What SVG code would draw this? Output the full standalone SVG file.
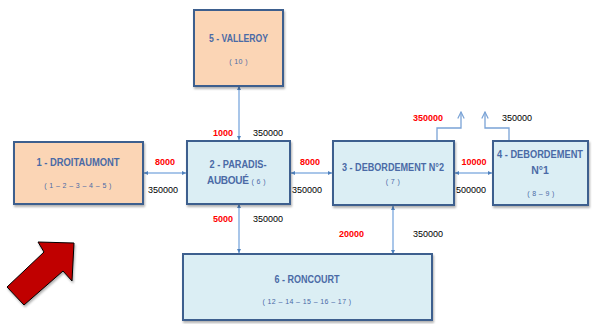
<svg xmlns="http://www.w3.org/2000/svg" width="593" height="324" viewBox="0 0 593 324">
<style>
.box{stroke:#3d5f8e;stroke-width:2}
.org{fill:#fbd5b5}
.blu{fill:#dbeef4}
.t{font-family:"Liberation Sans",Arial,sans-serif;font-size:10.5px;font-weight:bold;fill:#4a6aa6;text-anchor:middle}
.s{font-family:"Liberation Sans",Arial,sans-serif;font-size:7px;fill:#4a6aa6;text-anchor:middle;letter-spacing:0.4px}
.r{font-family:"Liberation Sans",Arial,sans-serif;font-size:9px;font-weight:bold;fill:#ff0000}
.k{font-family:"Liberation Sans",Arial,sans-serif;font-size:9px;fill:#000}
.c{stroke:#8db3e2;stroke-width:1.5;fill:none}
.o{stroke:#7aa3d6;stroke-width:1.3;fill:none}
</style>
<defs>
<marker id="ah" viewBox="0 0 10 10" refX="10" refY="5" markerWidth="4" markerHeight="4" orient="auto-start-reverse" markerUnits="userSpaceOnUse">
<path d="M0,0 L10,5 L0,10 z" fill="#4f81bd"/>
</marker>
<marker id="oh" viewBox="0 0 10 10" refX="9" refY="5" markerWidth="8" markerHeight="8" orient="auto" markerUnits="userSpaceOnUse">
<path d="M1,1 L9,5 L1,9" fill="none" stroke="#7aa3d6" stroke-width="1.5"/>
</marker>
<filter id="sh" x="-10%" y="-10%" width="120%" height="130%">
<feDropShadow dx="1" dy="2" stdDeviation="1" flood-color="#000" flood-opacity="0.3"/>
</filter>
</defs>
<rect width="593" height="324" fill="#fff"/>

<g id="connectors">
<line class="c" x1="239" y1="86" x2="239" y2="140" marker-start="url(#ah)" marker-end="url(#ah)"/>
<line class="c" x1="144" y1="173" x2="186" y2="173" marker-start="url(#ah)" marker-end="url(#ah)"/>
<line class="c" x1="291" y1="173" x2="332" y2="173" marker-start="url(#ah)" marker-end="url(#ah)"/>
<line class="c" x1="455" y1="173" x2="492" y2="173" marker-start="url(#ah)" marker-end="url(#ah)"/>
<line class="c" x1="239" y1="204" x2="239" y2="253" marker-start="url(#ah)" marker-end="url(#ah)"/>
<line class="c" x1="393" y1="206" x2="393" y2="254" marker-start="url(#ah)" marker-end="url(#ah)"/>
<polyline class="o" points="437,141 437,128 461,128 461,112" marker-end="url(#oh)"/>
<polyline class="o" points="509,141 509,128 485,128 485,112" marker-end="url(#oh)"/>
</g>

<g id="labels">
<text class="r" x="213" y="136">1000</text>
<text class="k" x="253" y="136">350000</text>
<text class="r" x="165" y="165" text-anchor="middle">8000</text>
<text class="k" x="148" y="193">350000</text>
<text class="r" x="310" y="165" text-anchor="middle">8000</text>
<text class="k" x="292" y="193">350000</text>
<text class="r" x="413" y="121">350000</text>
<text class="k" x="502" y="121">350000</text>
<text class="r" x="474" y="165" text-anchor="middle">10000</text>
<text class="k" x="456" y="193">500000</text>
<text class="r" x="213" y="222">5000</text>
<text class="k" x="253" y="222">350000</text>
<text class="r" x="339" y="237">20000</text>
<text class="k" x="413" y="237">350000</text>
</g>

<g id="n5">
<rect class="box org" x="194" y="10" width="89" height="76" filter="url(#sh)"/>
<text class="t" x="238.5" y="42" textLength="59" lengthAdjust="spacingAndGlyphs">5 - VALLEROY</text>
<text class="s" x="238.5" y="64">( 10 )</text>
</g>
<g id="n1">
<rect class="box org" x="14" y="142" width="129" height="62" filter="url(#sh)"/>
<text class="t" x="78" y="166" textLength="83" lengthAdjust="spacingAndGlyphs">1 - DROITAUMONT</text>
<text class="s" x="78" y="188">( 1 – 2 – 3 – 4 – 5 )</text>
</g>
<g id="n2">
<rect class="box blu" x="187" y="141" width="103" height="63" filter="url(#sh)"/>
<text class="t" x="238" y="168" textLength="57" lengthAdjust="spacingAndGlyphs">2 - PARADIS-</text>
<text class="t" x="207" y="184" style="text-anchor:start;font-size:10px;letter-spacing:-0.3px">AUBOUÉ<tspan style="font-size:7px;font-weight:normal;letter-spacing:0.4px" dx="3">( 6 )</tspan></text>
</g>
<g id="n3">
<rect class="box blu" x="333" y="141" width="121" height="64" filter="url(#sh)"/>
<text class="t" x="393" y="171" textLength="102" lengthAdjust="spacingAndGlyphs">3 - DEBORDEMENT N°2</text>
<text class="s" x="393" y="184">( 7 )</text>
</g>
<g id="n4">
<rect class="box blu" x="493" y="141" width="95" height="64" filter="url(#sh)"/>
<text class="t" x="540" y="158" textLength="86" lengthAdjust="spacingAndGlyphs">4 - DEBORDEMENT</text>
<text class="t" x="540" y="174">N°1</text>
<text class="s" x="541" y="196">( 8 – 9 )</text>
</g>
<g id="n6">
<rect class="box blu" x="183" y="254" width="249" height="66" filter="url(#sh)"/>
<text class="t" x="307" y="283" textLength="65" lengthAdjust="spacingAndGlyphs">6 - RONCOURT</text>
<text class="s" x="307" y="304">( 12 – 14 – 15 – 16 – 17 )</text>
</g>

<g id="arrow">
<polygon points="7,287 24,305 63,271 72,281 74,243 38,242 44,252" fill="#c00000" stroke="#000" stroke-width="1" filter="url(#sh)"/>
</g>
</svg>
